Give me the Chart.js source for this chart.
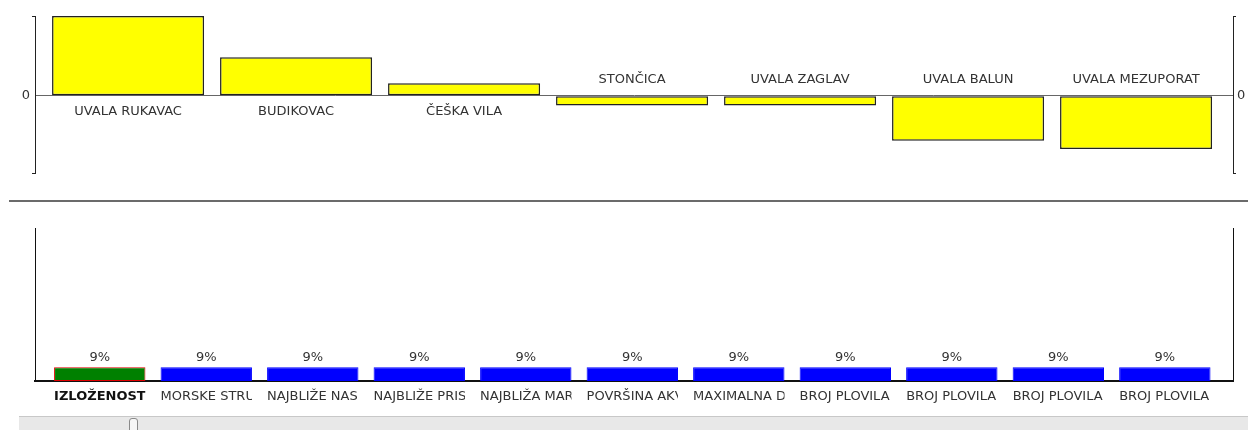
<!DOCTYPE html>
<html>
<head>
<meta charset="utf-8">
<script src="https://cdn.jsdelivr.net/npm/chart.js@4.4.1/dist/chart.umd.min.js"></script>
<style>
    html, body { margin: 0; padding: 0; background: #fff; overflow: hidden; }
    #top { position: absolute; left: 0; top: 0; }
    #divider { position: absolute; left: 9px; top: 200px; width: 1239px; height: 2px; background: #6b6b6b; }
    #bottom { position: absolute; left: 0; top: 205px; }
    #scroll { position: absolute; left: 19px; top: 416px; width: 1229px; height: 14px; background: #e8e8e8; border-top: 1px solid #c8c8c8; }
    #thumb { position: absolute; left: 110px; top: 1px; width: 7px; height: 14px; background: #f6f6f6; border: 1px solid #8a8a8a; border-radius: 3px 3px 0 0; }
</style>
</head>
<body>
<canvas id="top" width="1248" height="190"></canvas>
<div id="divider"></div>
<canvas id="bottom" width="1248" height="205"></canvas>
<div id="scroll"><div id="thumb"></div></div>
<script>
// Locations (top chart)
const locations = ['UVALA RUKAVAC', 'BUDIKOVAC', 'ČEŠKA VILA', 'STONČICA', 'UVALA ZAGLAV', 'UVALA BALUN', 'UVALA MEZUPORAT'];
const locationScores = [8.0, 3.87, 1.27, -0.97, -0.97, -4.5, -5.33];
const scoreMin = -7.73;
const scoreMax = 8.0;

// Criteria (bottom chart)
const criteria = ['IZLOŽENOST', 'MORSKE STRUJE', 'NAJBLIŽE NASELJE', 'NAJBLIŽE PRISTANIŠTE', 'NAJBLIŽA MARINA',
    'POVRŠINA AKVATORIJA', 'MAXIMALNA DUBINA', 'BROJ PLOVILA U SVIBNJU', 'BROJ PLOVILA U LIPNJU',
    'BROJ PLOVILA U SRPNJU', 'BROJ PLOVILA U KOLOVOZU'];
const criteriaWeights = [9, 9, 9, 9, 9, 9, 9, 9, 9, 9, 9];
const weightMax = 100;
const selectedCriterion = 0;

Chart.defaults.font.family = "'DejaVu Sans', sans-serif";
Chart.defaults.font.size = 13;
Chart.defaults.color = '#333';

const FONT = "13px 'DejaVu Sans', sans-serif";
const clear = 'rgba(0,0,0,0)';

// only min, 0 and max -> little bracket stubs at the axis ends
function bracketTicks(scale) {
    scale.ticks = [{ value: scale.min }, { value: 0 }, { value: scale.max }];
}

// one tick per bar so the bar ruler uses the full slot
const slotTicks = names => scale => {
    scale.ticks = names.map((n, i) => ({ value: i }));
};

const topLabels = {
    id: 'topLabels',
    afterDatasetsDraw(chart) {
        const ctx = chart.ctx;
        const zero = chart.scales.y.getPixelForValue(0);
        ctx.save();
        ctx.font = FONT;
        ctx.fillStyle = '#333';
        ctx.textAlign = 'center';
        ctx.textBaseline = 'middle';
        chart.getDatasetMeta(0).data.forEach((bar, i) => {
            const y = locationScores[i] >= 0 ? zero + 16 : zero - 16;
            ctx.fillText(locations[i], bar.x, y);
        });
        ctx.restore();
    }
};

const sideAxis = (position, width, padding, drawZero) => ({
    position: position,
    min: scoreMin,
    max: scoreMax,
    afterBuildTicks: bracketTicks,
    afterFit: s => { s.width = width; },
    ticks: { autoSkip: false, padding: padding, callback: v => v === 0 ? '0' : '' },
    grid: {
        drawOnChartArea: drawZero,
        tickLength: 3,
        color: c => c.tick && c.tick.value === 0 ? '#666' : clear,
        tickColor: c => c.tick && c.tick.value === 0 ? clear : '#222'
    },
    border: { color: '#222', width: 1 }
});

new Chart(document.getElementById('top'), {
    type: 'bar',
    data: {
        datasets: [{
            data: locationScores.map((v, i) => ({ x: i, y: v })),
            backgroundColor: '#ffff00',
            borderColor: '#222',
            borderWidth: 1.5,
            borderSkipped: false,
            barPercentage: 0.905,
            categoryPercentage: 1
        }]
    },
    options: {
        responsive: false,
        animation: false,
        events: [],
        layout: { padding: { top: 16, bottom: 17 } },
        plugins: { legend: { display: false }, tooltip: { enabled: false } },
        scales: {
            x: { type: 'linear', min: -0.554, max: 6.577, offset: false, display: false, afterBuildTicks: slotTicks(locations) },
            y: sideAxis('left', 35, 2, true),
            y2: sideAxis('right', 15, 1, false)
        }
    },
    plugins: [topLabels]
});

const criteriaLabels = {
    id: 'criteriaLabels',
    afterDatasetsDraw(chart) {
        const ctx = chart.ctx;
        const bottom = chart.chartArea.bottom;
        ctx.save();
        ctx.textBaseline = 'middle';
        chart.getDatasetMeta(0).data.forEach((bar, i) => {
            ctx.font = FONT;
            ctx.fillStyle = '#333';
            ctx.textAlign = 'center';
            ctx.fillText(criteriaWeights[i] + '%', bar.x, bar.y - 10);

            // name is cut off at the bar width
            const left = bar.x - bar.width / 2;
            ctx.save();
            ctx.beginPath();
            ctx.rect(left, bottom + 3, bar.width, 24);
            ctx.clip();
            ctx.textAlign = 'left';
            ctx.font = (i === selectedCriterion ? 'bold ' : '') + FONT;
            ctx.fillStyle = i === selectedCriterion ? '#111' : '#333';
            ctx.fillText(criteria[i], left, bottom + 16);
            ctx.restore();
        });
        ctx.restore();
    }
};

const plainAxis = (position, width) => ({
    position: position,
    min: 0,
    max: weightMax,
    afterFit: s => { s.width = width; },
    ticks: { display: false },
    grid: { display: false },
    border: { color: '#111', width: 1 }
});

new Chart(document.getElementById('bottom'), {
    type: 'bar',
    data: {
        datasets: [{
            data: criteriaWeights.map((v, i) => ({ x: i, y: v })),
            backgroundColor: criteria.map((c, i) => i === selectedCriterion ? '#008000' : '#0000ff'),
            borderColor: criteria.map((c, i) => i === selectedCriterion ? '#e00000' : '#0000ff'),
            borderWidth: 1,
            borderSkipped: false,
            barPercentage: 0.858,
            categoryPercentage: 1
        }]
    },
    options: {
        responsive: false,
        animation: false,
        events: [],
        layout: { padding: { top: 23 } },
        plugins: { legend: { display: false }, tooltip: { enabled: false } },
        scales: {
            x: {
                type: 'linear', min: -0.608, max: 10.64, offset: false,
                afterBuildTicks: slotTicks(criteria),
                afterFit: s => { s.height = 29; },
                ticks: { display: false },
                grid: { display: false },
                border: { color: '#111', width: 2 }
            },
            y: plainAxis('left', 35),
            y2: plainAxis('right', 15)
        }
    },
    plugins: [criteriaLabels]
});
</script>
</body>
</html>
